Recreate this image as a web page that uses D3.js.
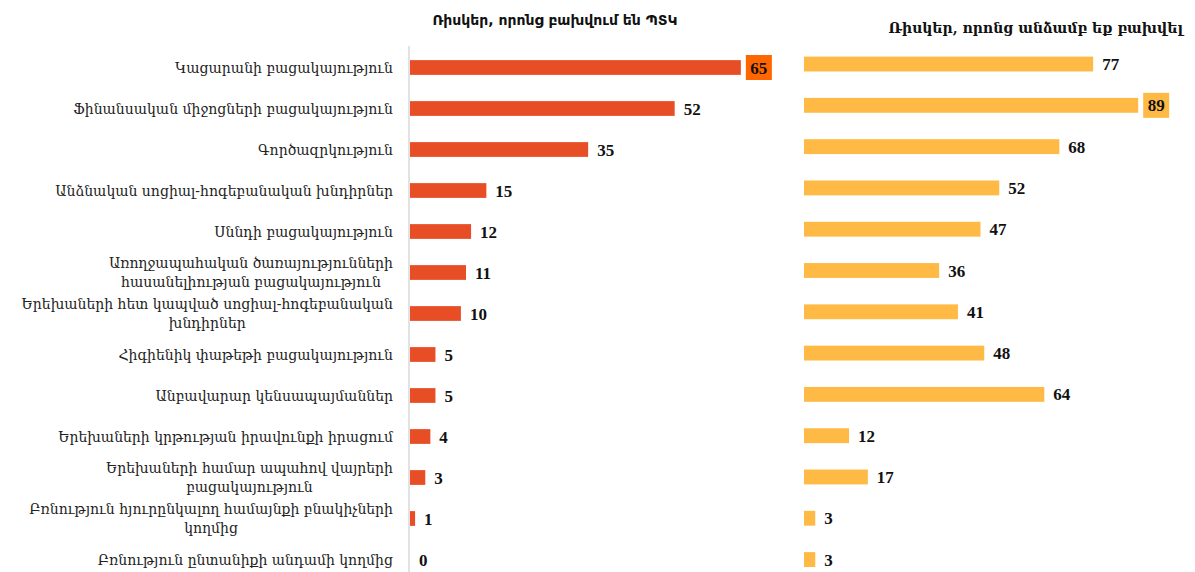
<!DOCTYPE html>
<html>
<head>
<meta charset="utf-8">
<script src="https://cdn.jsdelivr.net/npm/d3@7"></script>
<style>
  body { margin: 0; background: #fff; }
  svg { display: block; }
  .cat { font-family: "DejaVu Serif", serif; font-size: 14px; fill: #222; }
  .val { font-family: "Liberation Serif", "Times New Roman", serif; font-size: 17px; font-weight: bold; fill: #111; }
</style>
</head>
<body>
<svg id="chart"></svg>
<script>
const width = 1195;
const height = 572;

const categories = [
    'Կացարանի բացակայություն',
    'Ֆինանսական միջոցների բացակայություն',
    'Գործազրկություն',
    'Անձնական սոցիալ-հոգեբանական խնդիրներ',
    'Սննդի բացակայություն',
    'Առողջապահական ծառայությունների\nհասանելիության բացակայություն',
    'Երեխաների հետ կապված սոցիալ-հոգեբանական\nխնդիրներ',
    'Հիգիենիկ փաթեթի բացակայություն',
    'Անբավարար կենսապայմաններ',
    'Երեխաների կրթության իրավունքի իրացում',
    'Երեխաների համար ապահով վայրերի\nբացակայություն',
    'Բռնություն հյուրընկալող համայնքի բնակիչների\nկողմից',
    'Բռնություն ընտանիքի անդամի կողմից'
];
const facedByPTK = [65, 52, 35, 15, 12, 11, 10, 5, 5, 4, 3, 1, 0];
const facedPersonally = [77, 89, 68, 52, 47, 36, 41, 48, 64, 12, 17, 3, 3];

const titleLeft = 'Ռիսկեր, որոնց բախվում են ՊՏԿ';
const titleRight = 'Ռիսկեր, որոնց անձամբ եք բախվել';

const redColor = '#E84E25';
const yellowColor = '#FFBA45';

const svg = d3.select('#chart')
    .attr('width', width)
    .attr('height', height);

// two panels, each with its own band + linear scale
const yLeft = d3.scaleBand()
    .domain(d3.range(categories.length))
    .range([47, 580])
    .paddingInner(0.64)
    .paddingOuter(0.32);

const yRight = d3.scaleBand()
    .domain(d3.range(categories.length))
    .range([43.4, 580.2])
    .paddingInner(0.64)
    .paddingOuter(0.32);

const xLeft = d3.scaleLinear().domain([0, 70]).range([410, 410 + 70 * 5.09]);
const xRight = d3.scaleLinear().domain([0, 90]).range([804, 804 + 90 * 3.755]);

// titles
svg.append('text')
    .attr('x', 555).attr('y', 25)
    .attr('text-anchor', 'middle')
    .style('font-family', '"DejaVu Sans", sans-serif')
    .style('font-size', '14px')
    .style('font-weight', 'bold')
    .style('fill', '#111')
    .text(titleLeft);

svg.append('text')
    .attr('x', 1183).attr('y', 33)
    .attr('text-anchor', 'end')
    .style('font-family', '"DejaVu Serif", serif')
    .style('font-size', '14px')
    .style('font-weight', 'bold')
    .style('fill', '#111')
    .text(titleRight);

// category axis line
svg.append('line')
    .attr('x1', xLeft(0) - 1).attr('x2', xLeft(0) - 1)
    .attr('y1', 46).attr('y2', height)
    .attr('stroke', '#d9d9d9')
    .attr('stroke-width', 1.5);

// category labels: block right aligned, each line centred in the block
const labelRight = 393;
const lineH = 19;
const cats = svg.append('g').selectAll('text')
    .data(categories)
    .enter().append('text')
    .attr('class', 'cat')
    .attr('text-anchor', 'middle');

cats.each(function (d, i) {
    const lines = d.split('\n');
    const t = d3.select(this);
    const cy = yLeft(i) + yLeft.bandwidth() / 2;
    lines.forEach((ln, k) => {
        t.append('tspan')
            .attr('dy', 0)
            .attr('y', cy + (k - (lines.length - 1) / 2) * lineH + 5)
            .text(ln);
    });
    let w = 0;
    t.selectAll('tspan').each(function () { w = Math.max(w, this.getComputedTextLength()); });
    t.selectAll('tspan').attr('x', labelRight - w / 2);
});

// left bars
svg.append('g').selectAll('rect')
    .data(facedByPTK)
    .enter().append('rect')
    .attr('x', xLeft(0))
    .attr('y', (d, i) => yLeft(i))
    .attr('width', d => xLeft(d) - xLeft(0))
    .attr('height', yLeft.bandwidth())
    .attr('fill', redColor);

// right bars
svg.append('g').selectAll('rect')
    .data(facedPersonally)
    .enter().append('rect')
    .attr('x', xRight(0))
    .attr('y', (d, i) => yRight(i))
    .attr('width', d => xRight(d) - xRight(0))
    .attr('height', yRight.bandwidth())
    .attr('fill', yellowColor);

// value labels, max value gets a highlight box
const addLabels = (values, x, y, boxColor) => {
    const maxV = d3.max(values);
    const g = svg.append('g');
    values.forEach((v, i) => {
        const cy = y(i) + y.bandwidth() / 2;
        if (v === maxV) {
            g.append('rect')
                .attr('x', x(v) + 5)
                .attr('y', cy - 12.5)
                .attr('width', 26)
                .attr('height', 25)
                .attr('fill', boxColor);
            g.append('text')
                .attr('class', 'val')
                .attr('x', x(v) + 18)
                .attr('y', cy + 6)
                .attr('text-anchor', 'middle')
                .text(v);
        } else {
            g.append('text')
                .attr('class', 'val')
                .attr('x', x(v) + 9)
                .attr('y', cy + 6)
                .text(v);
        }
    });
};
addLabels(facedByPTK, xLeft, yLeft, '#FF6600');
addLabels(facedPersonally, xRight, yRight, yellowColor);
</script>
</body>
</html>
